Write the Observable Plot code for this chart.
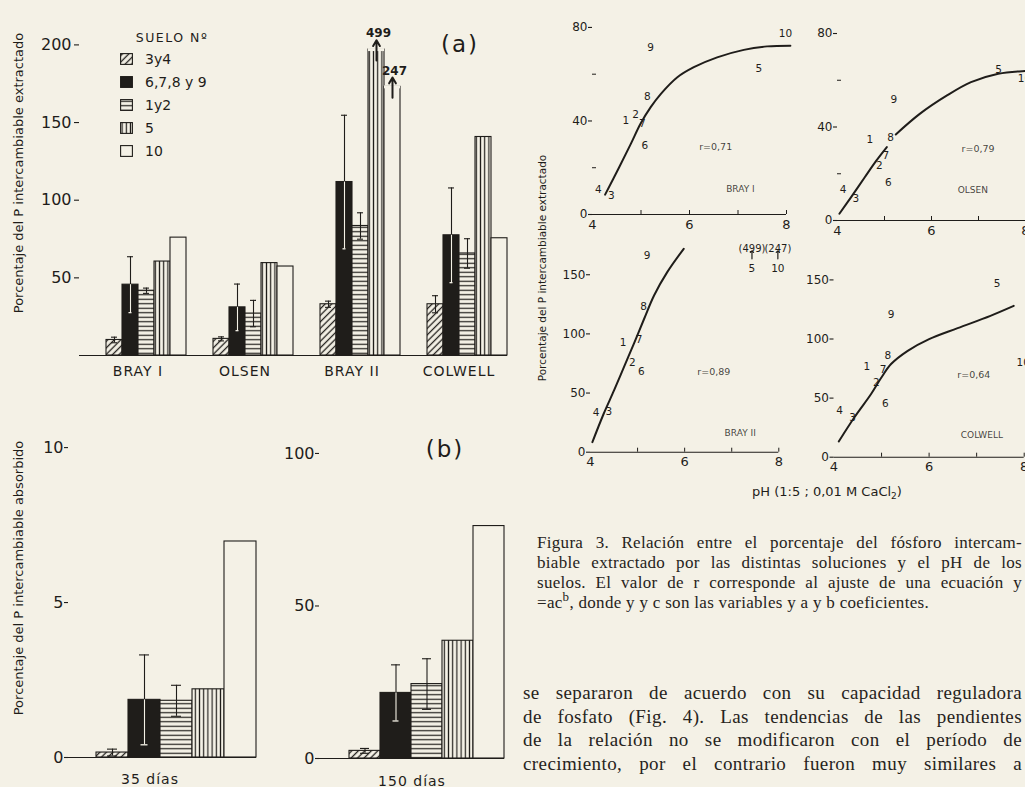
<!DOCTYPE html>
<html lang="es">
<head>
<meta charset="utf-8">
<title>Figura 3</title>
<script src="https://cdn.jsdelivr.net/npm/d3@7"></script>
<script src="https://cdn.jsdelivr.net/npm/@observablehq/plot@0.6"></script>
<style>
  html, body { margin: 0; padding: 0; background: #f4f1e6; }
  #page { position: relative; width: 1025px; height: 787px; overflow: hidden; background: #f4f1e6; color: #1f1d1a; font-family: "DejaVu Sans", sans-serif; }
  .box { position: absolute; }
  .box svg { max-width: none !important; display: block; overflow: visible; }
  .c { position: absolute; transform: translate(-50%, -50%); white-space: nowrap; line-height: 1; }
  .v { position: absolute; transform: translate(-50%, -50%) rotate(-90deg); white-space: nowrap; line-height: 1; }
  .serif { font-family: "Liberation Serif", "DejaVu Serif", serif; }
  .jl { text-align: justify; text-align-last: justify; }
  .row { position: absolute; display: flex; align-items: center; height: 14px; font-size: 14px; }
  .row svg { margin-right: 12px; }
  g[aria-label="fx-axis tick label"] text { letter-spacing: 1px; }
</style>
</head>
<body>
<svg width="0" height="0" style="position:absolute">
  <defs>
    <pattern id="hatch" patternUnits="userSpaceOnUse" width="4.6" height="4.6" patternTransform="rotate(45)">
      <rect width="4.6" height="4.6" fill="#f4f1e6"/>
      <line x1="2.3" y1="-1" x2="2.3" y2="6" stroke="#1f1d1a" stroke-width="1.3"/>
    </pattern>
    <pattern id="hlines" patternUnits="userSpaceOnUse" width="4" height="4.5">
      <rect width="4" height="4.5" fill="#f4f1e6"/>
      <line x1="-1" y1="2.25" x2="5" y2="2.25" stroke="#1f1d1a" stroke-width="1.2"/>
    </pattern>
    <pattern id="vlines" patternUnits="userSpaceOnUse" width="4.2" height="4">
      <rect width="4.2" height="4" fill="#f4f1e6"/>
      <line x1="2.1" y1="-1" x2="2.1" y2="5" stroke="#1f1d1a" stroke-width="1.2"/>
    </pattern>
  </defs>
</svg>
<div id="page"></div>
<script>
// ---------------- DATA ----------------
// (a) Porcentaje del P intercambiable extractado
const methods = ["BRAY I", "OLSEN", "BRAY II", "COLWELL"];
const soils = ["3y4", "6,7,8 y 9", "1y2", "5", "10"];
const meanBrayI   = [10, 45.6, 41.7, 60.5, 75.9];
const meanOlsen   = [10.7, 31, 27, 59.5, 57.3];
const meanBrayII  = [33, 111.7, 83.4, 499, 247];
const meanColwell = [33, 77.4, 65.7, 140.7, 75.5];
const sdBrayI   = [1.8, 18, 1.7, null, null];
const sdOlsen   = [1.3, 15, 8.5, null, null];
const sdBrayII  = [2, 43, 8.5, null, null];
const sdColwell = [5.5, 30.5, 9.5, null, null];
// bars that run off the axis are drawn broken at these values
const cutNone   = [null, null, null, null, null];
const cutBrayII = [null, null, null, 197, 173];

// (b) Porcentaje del P intercambiable absorbido
const periods = ["35 días", "150 días"];
const absorbed35    = [0.16, 1.86, 1.83, 2.2, 6.97];
const absorbedSd35  = [0.11, 1.45, 0.5, null, null];
const absorbed150   = [2.5, 21.5, 24.4, 38.6, 76.2];
const absorbedSd150 = [0.8, 9.2, 8.3, null, null];

// Scatter: % extractado vs pH for soils 1..10
const soilNo = [1, 2, 3, 4, 5, 6, 7, 8, 9, 10];
const soilPH = [4.69, 4.89, 4.39, 4.12, 7.43, 5.08, 5.03, 5.13, 5.2, 7.98];
const pctBrayI   = [40.2, 42.7, 8.1, 10.7, 62.3, 29.5, 39, 50.4, 71.5, 77.5];
const pctOlsen   = [34.7, 23.5, 9.5, 13.1, 64.5, 16.4, 27.8, 35.6, 51.6, 60.6];
const pctBrayII  = [93, 76, 34.7, 33.3, 499, 68.5, 95, 123.2, 166.3, 247];
const pctColwell = [76.4, 63.2, 33.3, 39.5, 147.1, 45.4, 74.4, 86.3, 120.7, 80.3];
const rValues = ["0,71", "0,79", "0,89", "0,64"];
// fitted curves y = a c^b: [pH, %, segment]
const fitBrayI = [[4.26,8.5,0],[4.55,20.2,0],[4.79,30.2,0],[4.99,38.8,0],[5.2,45.9,0],[5.41,51.6,0],[5.75,58.7,0],[6.09,63,0],[6.57,67.2,0],[7.12,70.4,0],[7.6,71.9,0],[8.08,72.2,0]];
const fitOlsen = [[4.04,2.9,0],[4.29,10,0],[4.58,18.5,0],[4.83,25.7,0],[5.05,31.4,0],[5.24,36.8,1],[5.75,45.6,1],[6.33,53.5,1],[6.84,59.2,1],[7.42,62.8,1],[7.93,63.9,1],[8.1,63.9,1]];
const fitBrayII = [[4.04,8.5,0],[4.28,32.5,0],[4.5,52.2,0],[4.71,71.9,0],[4.92,91.6,0],[5.14,112.8,0],[5.35,132.5,0],[5.63,152.2,0],[5.98,171.9,0]];
const fitColwell = [[4.1,13.3,0],[4.43,33.8,0],[4.78,53.5,0],[4.99,67,0],[5.2,78.8,0],[5.55,90,0],[6.0,99.9,0],[6.6,109.2,0],[7.29,119.6,0],[7.78,128,0]];
// annotation anchors (pH, %)
const rAt    = [[6.54, 28.8], [6.99, 30.7], [6.62, 68.2], [6.94, 69.2]];
const nameAt = [[7.05, 11], [6.88, 12.8], [7.18, 16], [7.11, 18.4]];

// ---------------- STYLE ----------------
const INK = "#1f1d1a", PAPER = "#f4f1e6", FONT = "'DejaVu Sans', sans-serif";
const soilFill = ["url(#hatch)", INK, "url(#hlines)", "url(#vlines)", PAPER];
const darkSoil = soils[1];
const page = document.getElementById("page");
const baseStyle = {background: "transparent", color: INK, fontFamily: FONT, overflow: "visible"};

function place(node, left, top, width, height) {
  const box = document.createElement("div");
  box.className = "box";
  Object.assign(box.style, {left: left + "px", top: top + "px", width: width + "px", height: height + "px"});
  box.appendChild(node);
  page.appendChild(box);
}
function html(cls, left, top, content, extra = "") {
  const d = document.createElement("div");
  d.className = cls;
  d.style.cssText = `left:${left}px;top:${top}px;${extra}`;
  d.innerHTML = content;
  page.appendChild(d);
}

function barMarks(data, {fx, capInset}) {
  const f = fx ? {fx} : {};
  const top = d => d.cut ?? d.v;
  const hasSd = d => d.sd != null;
  const marks = soils.map((s, i) => Plot.barY(data, {...f, filter: d => d.soil === s, x: "soil", y: top, fill: soilFill[i], stroke: INK, strokeWidth: 1.1}));
  marks.push(
    Plot.tickY(data, {...f, filter: d => d.cut != null, x: "soil", y: "cut", stroke: PAPER, strokeWidth: 3}),
    Plot.ruleX(data, {...f, filter: hasSd, x: "soil", y1: "v", y2: d => d.v + d.sd, stroke: INK, strokeWidth: 1.1}),
    Plot.tickY(data, {...f, filter: hasSd, x: "soil", y: d => d.v + d.sd, stroke: INK, strokeWidth: 1.1, insetLeft: capInset, insetRight: capInset}),
    Plot.ruleX(data, {...f, filter: d => hasSd(d) && d.soil !== darkSoil, x: "soil", y1: "v", y2: d => d.v - d.sd, stroke: INK, strokeWidth: 1.1}),
    Plot.tickY(data, {...f, filter: d => hasSd(d) && d.soil !== darkSoil, x: "soil", y: d => d.v - d.sd, stroke: INK, strokeWidth: 1.1, insetLeft: capInset, insetRight: capInset}),
    Plot.ruleX(data, {...f, filter: d => hasSd(d) && d.soil === darkSoil, x: "soil", y1: "v", y2: d => d.v - d.sd, stroke: PAPER, strokeWidth: 1.1}),
    Plot.tickY(data, {...f, filter: d => hasSd(d) && d.soil === darkSoil, x: "soil", y: d => d.v - d.sd, stroke: PAPER, strokeWidth: 1.3, insetLeft: capInset + 1.5, insetRight: capInset + 1.5})
  );
  return marks;
}

// ---------------- (a) ----------------
const meanA = [meanBrayI, meanOlsen, meanBrayII, meanColwell];
const sdA = [sdBrayI, sdOlsen, sdBrayII, sdColwell];
const cutA = [cutNone, cutNone, cutBrayII, cutNone];
const extracted = methods.flatMap((m, mi) => soils.map((s, si) => ({method: m, soil: s, v: meanA[mi][si], sd: sdA[mi][si], cut: cutA[mi][si]})));

const plotA = Plot.plot({
  width: 520, height: 390, marginLeft: 77, marginRight: 12, marginTop: 18, marginBottom: 35,
  style: baseStyle,
  fx: {domain: methods, padding: 0, label: null},
  x: {domain: soils, paddingInner: 0, paddingOuter: 0.82, align: 1, axis: null},
  y: {domain: [0, 217]},
  marks: [
    Plot.axisY({ticks: [50, 100, 150, 200], tickSize: 5, tickPadding: 3, fontSize: 16, label: null, line: true, strokeWidth: 1.1}),
    Plot.axisFx({anchor: "bottom", tickSize: 0, tickPadding: 11, fontSize: 14, label: null, dx: 5}),
    ...barMarks(extracted, {fx: "method", capInset: 5}),
    Plot.ruleY([0], {stroke: INK, strokeWidth: 1.2}),
    Plot.arrow(extracted, {filter: d => d.cut != null, fx: "method", x1: "soil", x2: "soil", y1: d => d.cut - 7, y2: d => d.cut + 6, stroke: INK, strokeWidth: 2, headLength: 6, headAngle: 60}),
    Plot.text(extracted, {filter: d => d.cut != null, fx: "method", x: "soil", y: d => d.cut + 6, lineAnchor: "bottom", dy: -3, dx: 2, text: d => String(d.v), fontSize: 12, fontWeight: "bold", fill: INK})
  ]
});
place(plotA, 0, 0, 520, 390);

// ---------------- (b) ----------------
function absorbedPlot(vals, sds, yMax, ticks, cfg) {
  const data = soils.map((s, i) => ({soil: s, v: vals[i], sd: sds[i], cut: null}));
  return Plot.plot({
    width: cfg.w, height: 387, marginLeft: cfg.ml, marginRight: cfg.mr, marginTop: 13, marginBottom: cfg.mb,
    style: baseStyle,
    x: {domain: soils, paddingInner: 0, paddingOuter: cfg.po, align: 1, axis: null},
    y: {domain: [0, yMax]},
    marks: [
      Plot.axisY({ticks, tickSize: 4, tickPadding: 1, fontSize: 16, label: null, line: true, strokeWidth: 1.1}),
      ...barMarks(data, {capInset: 11}),
      Plot.ruleY([0], {stroke: INK, strokeWidth: 1.2})
    ]
  });
}
place(absorbedPlot(absorbed35, absorbedSd35, 11.1, [0, 5, 10], {w: 270, ml: 68, mr: 14, mb: 30, po: 0.4}), 0, 400, 270, 387);
place(absorbedPlot(absorbed150, absorbedSd150, 113.1, [0, 50, 100], {w: 250, ml: 49, mr: 16, mb: 29, po: 0.427}), 270, 400, 250, 387);

// ---------------- Scatter panels ----------------
const scatterCfg = [
  {values: pctBrayI,   fit: fitBrayI,   yMax: 80.4,  yTicks: [0, 40, 80],      minor: [20, 60], left: 545, top: 0,   w: 260, mL: 47,   mR: 19,   mT: 26,   mB: 26},
  {values: pctOlsen,   fit: fitOlsen,   yMax: 83,    yTicks: [0, 40, 80],      minor: [20, 60], left: 790, top: 0,   w: 262, mL: 47,   mR: 27,   mT: 26,   mB: 20},
  {values: pctBrayII,  fit: fitBrayII,  yMax: 167.7, yTicks: [0, 50, 100, 150], minor: [],      left: 545, top: 235, w: 260, mL: 45,   mR: 26.7, mT: 18.3, mB: 23.3},
  {values: pctColwell, fit: fitColwell, yMax: 159.4, yTicks: [0, 50, 100, 150], minor: [],      left: 790, top: 235, w: 262, mL: 43.5, mR: 28.3, mT: 33.3, mB: 18.3}
];
scatterCfg.forEach((cfg, k) => {
  const pts = soilNo.map((n, i) => ({n, ph: soilPH[i], v: cfg.values[i]}));
  const inside = pts.filter(d => d.v <= cfg.yMax);
  const off = pts.filter(d => d.v > cfg.yMax);
  const notes = [
    {x: rAt[k][0], y: rAt[k][1], t: "r=" + rValues[k], s: 9.5},
    {x: nameAt[k][0], y: nameAt[k][1], t: methods[k], s: 9}
  ];
  const p = Plot.plot({
    width: cfg.w, height: 240, marginLeft: cfg.mL, marginRight: cfg.mR, marginTop: cfg.mT, marginBottom: cfg.mB,
    style: baseStyle,
    x: {domain: [4, 8]},
    y: {domain: [0, cfg.yMax]},
    marks: [
      Plot.axisY({ticks: cfg.yTicks, tickSize: 4, tickPadding: 1, fontSize: 12, label: null, line: true, strokeWidth: 1.1, tickFormat: "d"}),
      cfg.minor.length ? Plot.axisY({ticks: cfg.minor, tickSize: -4, text: null, label: null, strokeWidth: 1}) : null,
      Plot.axisX({ticks: [4, 6, 8], tickSize: 0, tickPadding: 5, fontSize: 13, label: null, tickFormat: "d"}),
      Plot.axisX({ticks: [5, 6, 7, 8], tickSize: -4, text: null, label: null, strokeWidth: 1}),
      Plot.ruleY([0], {stroke: INK, strokeWidth: 1.1}),
      Plot.line(cfg.fit, {x: d => d[0], y: d => d[1], z: d => d[2], curve: "catmull-rom", stroke: INK, strokeWidth: 2}),
      Plot.text(inside, {x: "ph", y: "v", text: d => String(d.n), fontSize: 10.5, fill: INK}),
      Plot.text(off, {x: "ph", frameAnchor: "top", dy: -8.5, text: d => `(${d.v})`, fontSize: 10, fill: INK}),
      Plot.vector(off, {x: "ph", frameAnchor: "top", dy: 5, length: 8, anchor: "start", stroke: INK, strokeWidth: 1.2}),
      Plot.text(off, {x: "ph", frameAnchor: "top", dy: 11, text: d => String(d.n), fontSize: 10.5, fill: INK}),
      Plot.text(notes, {x: "x", y: "y", text: "t", fontSize: d => d.s, fill: INK, fillOpacity: 0.85})
    ]
  });
  place(p, cfg.left, cfg.top, cfg.w, 240);
});

// ---------------- Text ----------------
html("v", 18, 173, "Porcentaje del P intercambiable extractado", "font-size:13px;");
html("v", 18, 578, "Porcentaje del P intercambiable absorbido", "font-size:13px;");
html("v", 542, 268, "Porcentaje del P intercambiable extractado", "font-size:10.5px;");
html("c", 460, 44, "(a)", "font-size:23px;letter-spacing:2px;");
html("c", 445, 449, "(b)", "font-size:23px;letter-spacing:2px;");
html("c", 150, 779, periods[0], "font-size:14px;letter-spacing:1px;");
html("c", 412, 781, periods[1], "font-size:14px;letter-spacing:1px;");
html("c", 827, 493, "pH (1:5 ; 0,01 M CaCl<sub style='font-size:9px'>2</sub>)", "font-size:13px;");

// legend
html("c", 172, 38, "SUELO Nº", "font-size:12.5px;letter-spacing:1.5px;");
const legendY = [59, 82, 105, 128, 151];
soils.forEach((s, i) => {
  html("row", 120, legendY[i] - 7,
    `<svg width="13" height="12"><rect x="0.6" y="0.6" width="11.8" height="10.8" fill="${soilFill[i]}" stroke="${INK}" stroke-width="1.1"/></svg><span>${s}</span>`);
});

// caption + body
const caption = document.createElement("div");
caption.className = "serif";
caption.style.cssText = "position:absolute;left:537px;top:533px;width:485px;font-size:17px;line-height:20px;letter-spacing:0.3px;color:#262320;";
caption.innerHTML = `
<div class="jl">Figura 3. Relación entre el porcentaje del fósforo intercam-</div>
<div class="jl">biable extractado por las distintas soluciones y el pH de los</div>
<div class="jl">suelos. El valor de r corresponde al ajuste de una ecuación y</div>
<div>=ac<sup style="font-size:13px;line-height:0">b</sup>, donde y y c son las variables y a y b coeficientes.</div>`;
page.appendChild(caption);

const body = document.createElement("div");
body.className = "serif";
body.style.cssText = "position:absolute;left:523px;top:681px;width:499px;font-size:19px;line-height:23.5px;letter-spacing:0.4px;color:#262320;";
body.innerHTML = `
<div class="jl">se separaron de acuerdo con su capacidad reguladora</div>
<div class="jl">de fosfato (Fig. 4). Las tendencias de las pendientes</div>
<div class="jl">de la relación no se modificaron con el período de</div>
<div class="jl">crecimiento, por el contrario fueron muy similares a</div>`;
page.appendChild(body);
</script>
</body>
</html>
